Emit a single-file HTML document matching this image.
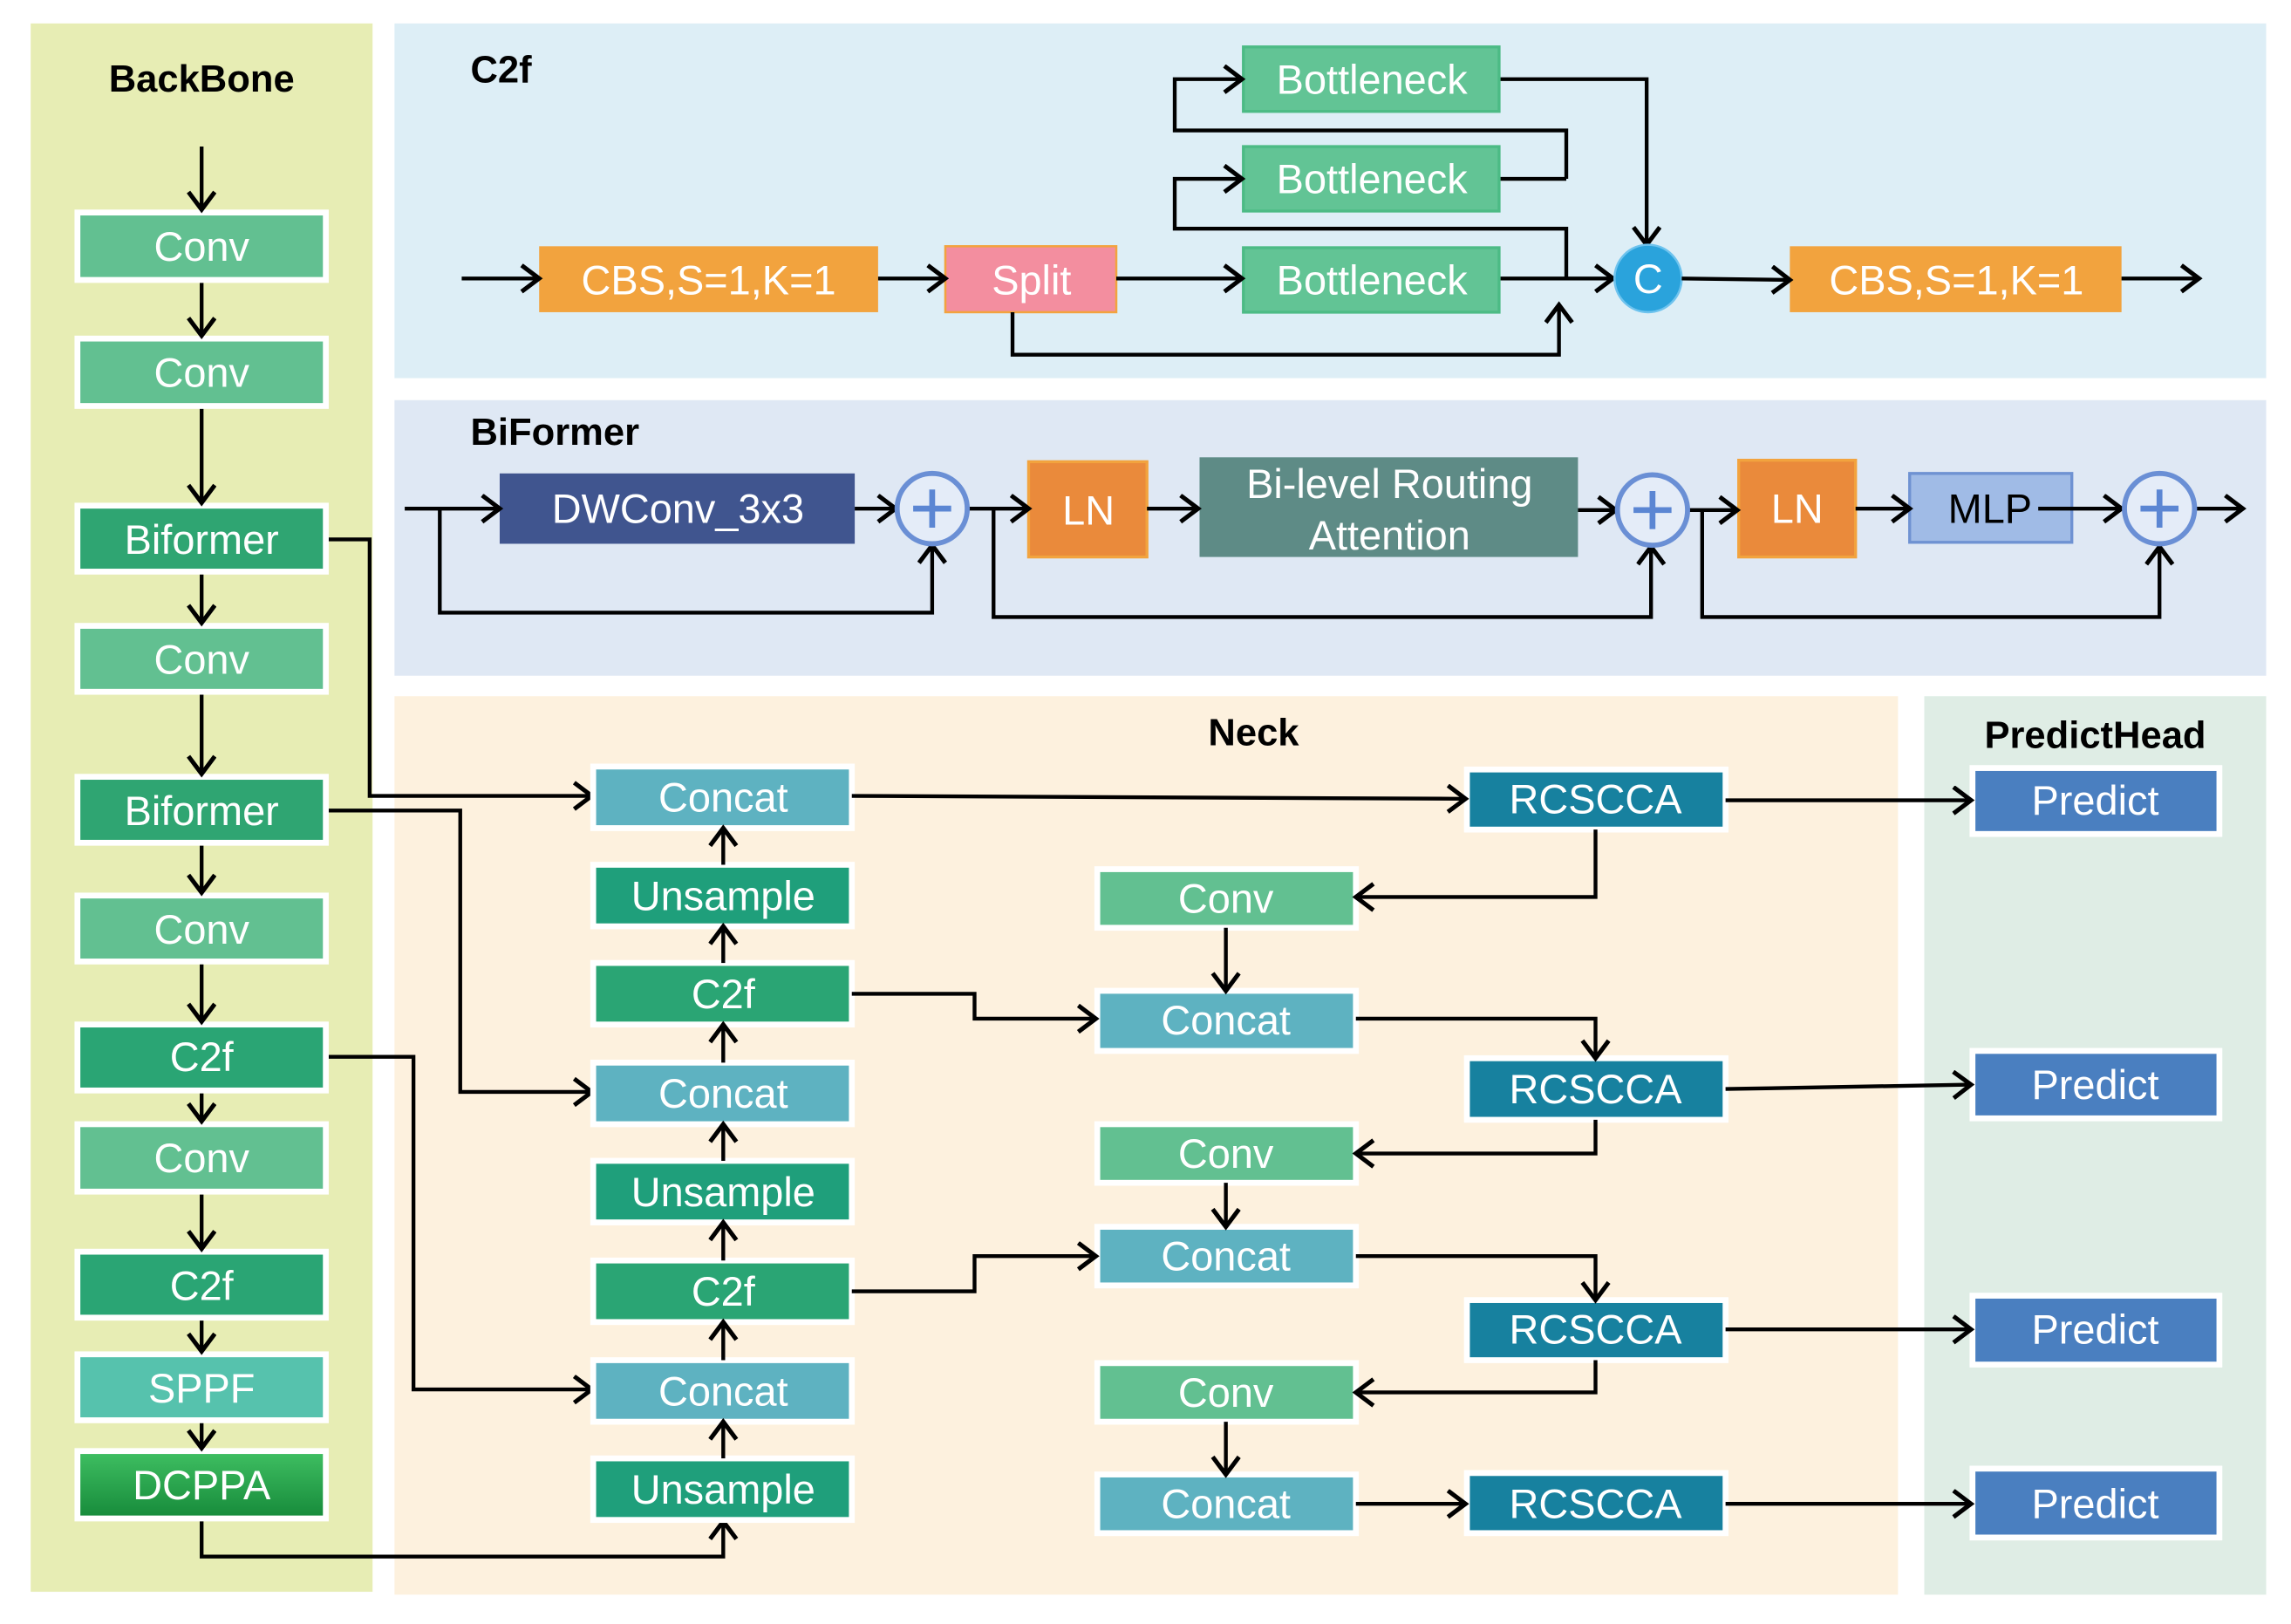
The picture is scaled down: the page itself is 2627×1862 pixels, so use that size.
<!DOCTYPE html>
<html><head><meta charset="utf-8"><style>
html,body{margin:0;padding:0;background:#fff}
svg{display:block}
text{font-family:"Liberation Sans",Arial,sans-serif}
.t{fill:#fff;font-size:28px;text-anchor:middle;dominant-baseline:central}
.h{fill:#000;font-size:26px;font-weight:bold;dominant-baseline:central}
.l{fill:none;stroke:#000;stroke-width:2.6}
.a{fill:none;stroke:#000;stroke-width:2.6;marker-end:url(#ar)}
</style></head><body>
<svg width="2627" height="1862" viewBox="0 0 1568 1108" preserveAspectRatio="none" xmlns="http://www.w3.org/2000/svg">
<defs>
<marker id="ar" markerUnits="userSpaceOnUse" markerWidth="20" markerHeight="24" refX="14" refY="10" orient="auto">
<path d="M2,1 L14,10 L2,19" fill="none" stroke="#000" stroke-width="3"/>
</marker>
<linearGradient id="dg" x1="0" y1="0" x2="0" y2="1"><stop offset="0" stop-color="#3fbf62"/><stop offset="1" stop-color="#168a3a"/></linearGradient>
</defs>
<!-- panels -->
<rect x="21" y="16" width="234" height="1070" fill="#e7edb4"/>
<rect x="270" y="16" width="1281" height="242" fill="#ddeef6"/>
<rect x="270" y="273" width="1281" height="188" fill="#dfe8f4"/>
<rect x="270" y="475" width="1029" height="613" fill="#fdf1de"/>
<rect x="1317" y="475" width="234" height="613" fill="#dfede5"/>
<text class="h" x="138" y="54" text-anchor="middle">BackBone</text>
<text class="h" x="322" y="48">C2f</text>
<text class="h" x="322" y="295">BiFormer</text>
<text class="h" x="858" y="500" text-anchor="middle">Neck</text>
<text class="h" x="1434" y="502" text-anchor="middle">PredictHead</text>

<!-- backbone boxes -->
<g stroke="#fff" stroke-width="4">
<rect x="53" y="145" width="170" height="46" fill="#62c091"/>
<rect x="53" y="231" width="170" height="46" fill="#62c091"/>
<rect x="53" y="345" width="170" height="45" fill="#2fa572"/>
<rect x="53" y="427" width="170" height="45" fill="#62c091"/>
<rect x="53" y="530" width="170" height="45" fill="#2fa572"/>
<rect x="53" y="611" width="170" height="45" fill="#62c091"/>
<rect x="53" y="699" width="170" height="45" fill="#2aa574"/>
<rect x="53" y="767" width="170" height="46" fill="#62c091"/>
<rect x="53" y="854" width="170" height="45" fill="#2aa574"/>
<rect x="53" y="924" width="170" height="45" fill="#56c2ad"/>
<rect x="53" y="990" width="170" height="46" fill="url(#dg)"/>
</g>
<text class="t" x="138" y="168">Conv</text>
<text class="t" x="138" y="254">Conv</text>
<text class="t" x="138" y="368">Biformer</text>
<text class="t" x="138" y="450">Conv</text>
<text class="t" x="138" y="553">Biformer</text>
<text class="t" x="138" y="634">Conv</text>
<text class="t" x="138" y="721">C2f</text>
<text class="t" x="138" y="790">Conv</text>
<text class="t" x="138" y="877">C2f</text>
<text class="t" x="138" y="947">SPPF</text>
<text class="t" x="138" y="1013">DCPPA</text>
<path class="a" d="M138,100V143"/><path class="a" d="M138,193V229"/><path class="a" d="M138,279V343"/>
<path class="a" d="M138,392V425"/><path class="a" d="M138,474V528"/><path class="a" d="M138,577V609"/>
<path class="a" d="M138,658V697"/><path class="a" d="M138,746V765"/><path class="a" d="M138,815V852"/>
<path class="a" d="M138,901V922"/><path class="a" d="M138,971V988"/>

<!-- backbone to neck -->
<path class="a" d="M225,368H253V543H405"/>
<path class="a" d="M225,553H315V745H405"/>
<path class="a" d="M225,721H283V948H405"/>
<path class="a" d="M138,1038V1062H495V1038"/>

<!-- neck left column -->
<g stroke="#fff" stroke-width="4">
<rect x="406" y="523" width="177" height="42" fill="#5eb2c1"/>
<rect x="406" y="590" width="177" height="42" fill="#1f9f7b"/>
<rect x="406" y="657" width="177" height="42" fill="#2aa574"/>
<rect x="406" y="725" width="177" height="42" fill="#5eb2c1"/>
<rect x="406" y="792" width="177" height="42" fill="#1f9f7b"/>
<rect x="406" y="860" width="177" height="42" fill="#2aa574"/>
<rect x="406" y="928" width="177" height="42" fill="#5eb2c1"/>
<rect x="406" y="995" width="177" height="42" fill="#1f9f7b"/>
</g>
<text class="t" x="495" y="544">Concat</text>
<text class="t" x="495" y="611">Unsample</text>
<text class="t" x="495" y="678">C2f</text>
<text class="t" x="495" y="746">Concat</text>
<text class="t" x="495" y="813">Unsample</text>
<text class="t" x="495" y="881">C2f</text>
<text class="t" x="495" y="949">Concat</text>
<text class="t" x="495" y="1016">Unsample</text>
<path class="a" d="M495,590V565"/><path class="a" d="M495,657V632"/><path class="a" d="M495,725V699"/>
<path class="a" d="M495,792V767"/><path class="a" d="M495,860V834"/><path class="a" d="M495,928V902"/>
<path class="a" d="M495,995V970"/>

<!-- middle column -->
<g stroke="#fff" stroke-width="4">
<rect x="751" y="593" width="177" height="40" fill="#62c091"/>
<rect x="751" y="676" width="177" height="41" fill="#5eb2c1"/>
<rect x="751" y="767" width="177" height="40" fill="#62c091"/>
<rect x="751" y="837" width="177" height="40" fill="#5eb2c1"/>
<rect x="751" y="930" width="177" height="40" fill="#62c091"/>
<rect x="751" y="1006" width="177" height="40" fill="#5eb2c1"/>
</g>
<text class="t" x="839" y="613">Conv</text>
<text class="t" x="839" y="696">Concat</text>
<text class="t" x="839" y="787">Conv</text>
<text class="t" x="839" y="857">Concat</text>
<text class="t" x="839" y="950">Conv</text>
<text class="t" x="839" y="1026">Concat</text>
<path class="a" d="M839,633V676"/><path class="a" d="M839,807V837"/><path class="a" d="M839,970V1006"/>

<!-- RCSCCA -->
<g stroke="#fff" stroke-width="4">
<rect x="1004" y="525" width="177" height="41" fill="#17819f"/>
<rect x="1004" y="722" width="177" height="42" fill="#17819f"/>
<rect x="1004" y="887" width="177" height="41" fill="#17819f"/>
<rect x="1004" y="1005" width="177" height="41" fill="#17819f"/>
</g>
<text class="t" x="1092" y="545">RCSCCA</text>
<text class="t" x="1092" y="743">RCSCCA</text>
<text class="t" x="1092" y="907">RCSCCA</text>
<text class="t" x="1092" y="1026">RCSCCA</text>

<!-- Predict -->
<g stroke="#fff" stroke-width="4">
<rect x="1350" y="524" width="169" height="45" fill="#4a7fc0"/>
<rect x="1350" y="717" width="169" height="46" fill="#4a7fc0"/>
<rect x="1350" y="884" width="169" height="47" fill="#4a7fc0"/>
<rect x="1350" y="1002" width="169" height="47" fill="#4a7fc0"/>
</g>
<text class="t" x="1434" y="546">Predict</text>
<text class="t" x="1434" y="740">Predict</text>
<text class="t" x="1434" y="907">Predict</text>
<text class="t" x="1434" y="1026">Predict</text>

<!-- neck connectors -->
<path class="a" d="M583,543L1003,545"/>
<path class="a" d="M1092,566V612H928"/>
<path class="a" d="M583,678H667V695H750"/>
<path class="a" d="M928,695H1092V722"/>
<path class="a" d="M1092,764V787H928"/>
<path class="a" d="M583,881H667V857H750"/>
<path class="a" d="M928,857H1092V887"/>
<path class="a" d="M1092,928V950H928"/>
<path class="a" d="M928,1026H1003"/>
<path class="a" d="M1181,546H1349"/>
<path class="a" d="M1181,743L1349,740"/>
<path class="a" d="M1181,907H1349"/>
<path class="a" d="M1181,1026H1349"/>

<!-- C2f panel -->
<rect x="369" y="168" width="232" height="45" fill="#f2a33e"/>
<text class="t" x="485" y="191">CBS,S=1,K=1</text>
<rect x="647" y="168" width="117" height="45" fill="#f38e9f" stroke="#f2a33e" stroke-width="1.5"/>
<text class="t" x="706" y="191">Split</text>
<g fill="#62c495" stroke="#4cbb85" stroke-width="2">
<rect x="851" y="32" width="175" height="44"/>
<rect x="851" y="100" width="175" height="44"/>
<rect x="851" y="169" width="175" height="44"/>
</g>
<text class="t" x="939" y="54">Bottleneck</text>
<text class="t" x="939" y="122">Bottleneck</text>
<text class="t" x="939" y="191">Bottleneck</text>
<rect x="1225" y="168" width="227" height="45" fill="#f2a33e"/>
<text class="t" x="1339" y="191">CBS,S=1,K=1</text>
<path class="a" d="M316,190H369"/>
<path class="a" d="M601,190H647"/>
<path class="a" d="M764,190H850"/>
<path class="a" d="M1072,122V89H804V54H850"/>
<path class="a" d="M1072,190V156H804V122H850"/>
<path class="l" d="M1027,122H1072"/>
<path class="a" d="M1027,54H1127V167"/>
<path class="a" d="M1027,190H1104"/>
<path class="a" d="M693,213V242H1067V208"/>
<circle cx="1128" cy="190" r="23" fill="#2aa3dc" stroke="#6ec3ee" stroke-width="1.5"/>
<text class="t" x="1128" y="190">C</text>
<path class="a" d="M1151,190L1225,191"/>
<path class="a" d="M1452,190H1505"/>

<!-- BiFormer panel -->
<rect x="342" y="323" width="243" height="48" fill="#40558f"/>
<text class="t" x="464" y="347">DWConv_3x3</text>
<rect x="704" y="315" width="81" height="65" fill="#ea8a3b" stroke="#f2a33e" stroke-width="2"/>
<text class="t" x="745" y="348">LN</text>
<rect x="821" y="312" width="259" height="68" fill="#5e8b86"/>
<text class="t" x="951" y="330">Bi-level Routing</text>
<text class="t" x="951" y="365">Attention</text>
<rect x="1190" y="314" width="80" height="66" fill="#ea8a3b" stroke="#f2a33e" stroke-width="2"/>
<text class="t" x="1230" y="347">LN</text>
<rect x="1307" y="323" width="111" height="47" fill="#a0bbe6" stroke="#6f92d2" stroke-width="2"/>
<text class="t" x="1362" y="347" style="fill:#000">MLP</text>

<path class="a" d="M277,347H342"/>
<path class="a" d="M301,347V418H638V372"/>
<path class="a" d="M585,347H613"/>
<path class="a" d="M663,347H704"/>
<path class="a" d="M680,347V421H1130V373"/>
<path class="a" d="M785,347H820"/>
<path class="a" d="M1080,348H1106"/>
<path class="a" d="M1156,348H1189"/>
<path class="a" d="M1165,348V421H1478V373"/>
<path class="a" d="M1270,347H1307"/>
<path class="a" d="M1395,347H1452"/>
<path class="a" d="M1503,347H1535"/>
<g fill="#e4ecf8" stroke="#6a8fd5" stroke-width="3.5">
<circle cx="638" cy="347" r="24"/>
<circle cx="1131" cy="348" r="24"/>
<circle cx="1478" cy="347" r="24"/>
</g>
<g stroke="#5b86d3" stroke-width="4">
<path d="M625,347H651M638,334V360"/>
<path d="M1118,348H1144M1131,335V361"/>
<path d="M1465,347H1491M1478,334V360"/>
</g>
</svg>
</body></html>
